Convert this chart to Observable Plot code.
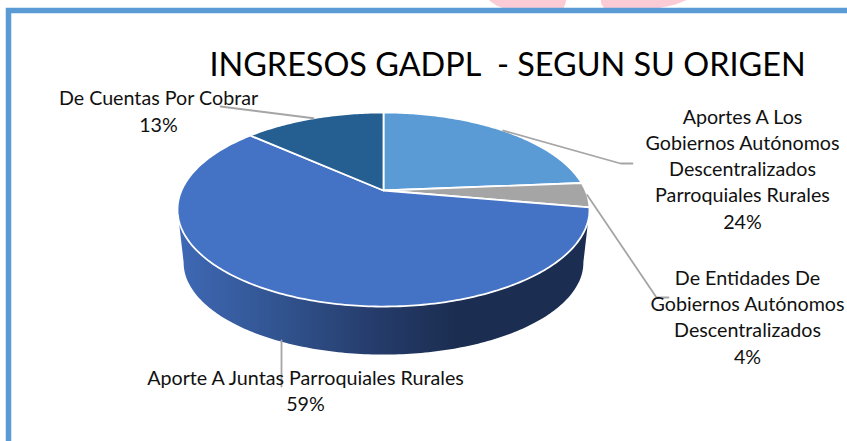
<!DOCTYPE html>
<html><head><meta charset="utf-8">
<script src="https://cdn.jsdelivr.net/npm/d3@7"></script>
<script src="https://cdn.jsdelivr.net/npm/@observablehq/plot@0.6"></script>
<style>html,body{margin:0;padding:0;background:#fff;overflow:hidden}svg{display:block}</style>
</head><body><div id="chart"></div>
<script>
const titleText = "INGRESOS GADPL  - SEGUN SU ORIGEN";
const categories = ["Aportes A Los Gobiernos Autónomos Descentralizados Parroquiales Rurales","De Entidades De Gobiernos Autónomos Descentralizados","Aporte A Juntas Parroquiales Rurales","De Cuentas Por Cobrar"];
const shares = [23.7, 4.1, 58.8, 13.4];
const labelLines = ["Aportes A Los\nGobiernos Autónomos\nDescentralizados\nParroquiales Rurales","De Entidades De\nGobiernos Autónomos\nDescentralizados","Aporte A Juntas Parroquiales Rurales","De Cuentas Por Cobrar"];
const colors = ["#5b9bd5","#a5a5a5","#4472c4","#255e91"];

// Perspective view of the pie disc (layout, not data)
const top3d = {cx:383, y0:190, A:202, B:93.3, k:0.196};
const base3d = {cx:383, y0:244, A:196, B:88.5, k:0.196};
const project = (share, v = top3d) => {
  const t = share/100*2*Math.PI, X = Math.sin(t), Y = Math.cos(t), d = 1 + v.k*Y;
  return [v.cx + v.A*X/d, v.y0 - v.B*Y/d];
};
const arcPts = (a, b, v) => {
  const n = Math.max(2, Math.ceil(Math.abs(b-a)*4));
  return d3.range(n+1).map(i => project(a+(b-a)*i/n, v));
};
let acc = 0;
const cum = shares.map(s => { const r=[acc,acc+s]; acc+=s; return r; });

const slicePts = categories.flatMap((name,i) => {
  const apex = [top3d.cx, top3d.y0];
  return [apex, ...arcPts(cum[i][0], cum[i][1], top3d), apex].map(p => ({name, x:p[0], y:p[1]}));
});
const wallStart = 28.1, wallEnd = 71.9;
const wallPts = [...arcPts(wallStart, wallEnd, top3d), ...arcPts(wallEnd, wallStart, base3d)].map(p => ({x:p[0], y:p[1]}));

// Leader lines: start on the slice's mid angle, end by the label
const mids = cum.map(c => (c[0]+c[1])/2);
const leaderEnds = [[[620,163],[632,163]],[[656,297],[668,297]],[[281,386]],[[220,106]]];
const leaderPts = categories.flatMap((name,i) => {
  const start = i===2 ? [281,340] : project(mids[i]);
  return [start, ...leaderEnds[i]].map(p => ({name, x:p[0], y:p[1]}));
});
const labelPos = [[742,117],[747,278],[305,378],[158,98]];
const pctPos = [[742,222],[747,357],[305,404],[158,125]];
const labels = categories.map((c,i)=>({text:labelLines[i], x:labelPos[i][0], y:labelPos[i][1]}));
const pcts = shares.map((s,i)=>({text:Math.round(s)+"%", x:pctPos[i][0], y:pctPos[i][1]}));

const blobs = [
  [[487,-2],[490,1],[496,5],[503,8],[563,8],[565,3],[566,-2]],
  [[600,-2],[601,4],[604,8],[657,8],[675,4],[690,-2]]
].flatMap((b,i)=>b.map(p=>({b:i,x:p[0],y:p[1]})));

const gradient = () => {
  const ns = "http://www.w3.org/2000/svg";
  const defs = document.createElementNS(ns,"defs");
  const g = document.createElementNS(ns,"linearGradient");
  g.setAttribute("id","wallGradient");
  [[0,"#3f69b6"],[0.25,"#31538f"],[0.5,"#243a68"],[0.68,"#1b2d50"],[1,"#1b2d50"]].forEach(([o,c])=>{
    const s = document.createElementNS(ns,"stop");
    s.setAttribute("offset",o); s.setAttribute("stop-color",c); g.appendChild(s);
  });
  defs.appendChild(g);
  return defs;
};

const font = "Lato, Carlito, sans-serif";
const chart = Plot.plot({
  width:847, height:441, margin:0,
  style:{background:"#fff", fontFamily:font, overflow:"hidden"},
  x:{domain:[0,847], range:[0,847], axis:null},
  y:{domain:[0,441], range:[0,441], axis:null},
  color:{domain:categories, range:colors},
  marks:[
    gradient,
    Plot.line(blobs,{x:"x",y:"y",z:"b",fill:"#fcccd6",stroke:"none"}),
    Plot.rect([{x1:8.5,x2:900,y1:10.5,y2:600}],{x1:"x1",x2:"x2",y1:"y1",y2:"y2",fill:"#fff",stroke:"#5b9bd5",strokeWidth:5.5}),
    Plot.line(wallPts,{x:"x",y:"y",fill:"url(#wallGradient)",stroke:"none"}),
    Plot.line(slicePts,{x:"x",y:"y",z:"name",fill:"name",stroke:"#fff",strokeWidth:1.8,strokeLinejoin:"round"}),
    Plot.line(leaderPts,{x:"x",y:"y",z:"name",stroke:"#a5a5a5",strokeWidth:1.8}),
    Plot.text([titleText],{x:()=>507,y:()=>65,text:d=>d,fontSize:32.4,fill:"#000",lineAnchor:"middle"}),
    Plot.text(labels,{x:"x",y:"y",text:"text",fontSize:19.7,fill:"#111",lineHeight:1.325,lineAnchor:"top",dy:-12}),
    Plot.text(pcts,{x:"x",y:"y",text:"text",fontSize:19.7,fill:"#111",lineAnchor:"middle"})
  ]
});
document.getElementById("chart").appendChild(chart);
</script></body></html>
